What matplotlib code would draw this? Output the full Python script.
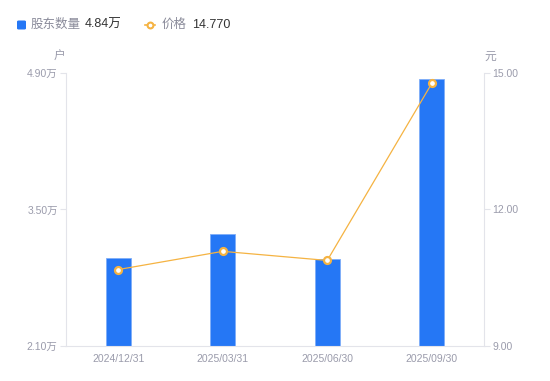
import matplotlib
matplotlib.use('Agg')
import matplotlib.pyplot as plt
import numpy as np

plt.rcParams['font.family'] = ['Liberation Sans', 'Noto Sans CJK SC', 'DejaVu Sans']

# data
dates = ['2024/12/31', '2025/03/31', '2025/06/30', '2025/09/30']
holders = [3.00, 3.25, 2.99, 4.84]      # 万户
price = [10.68, 11.08, 10.88, 14.77]    # 元
left_ticks = [2.10, 3.50, 4.90]
right_ticks = [9.00, 12.00, 15.00]

bar_color = '#2577F5'
line_color = '#F5B342'
axis_color = '#E3E4EA'
label_color = '#9A9BAB'

fig = plt.figure(figsize=(5.5, 3.81), dpi=100)
ax = fig.add_axes([0.12, 0.0919, 0.76, 0.7165])
ax2 = ax.twinx()

x = np.arange(len(dates))
ax.bar(x, holders, width=0.24, color=bar_color, edgecolor='#7FADF8', linewidth=0.6,
       bottom=0, zorder=2)
ax.set_xlim(-0.5, len(dates) - 0.5)
ax.set_ylim(left_ticks[0], left_ticks[-1])
ax.set_yticks(left_ticks)
ax.set_yticklabels([f'{v:.2f}万' for v in left_ticks])
ax.set_xticks(x)
ax.set_xticklabels(dates)

ax2.plot(x, price, color=line_color, linewidth=0.9, marker='o', markersize=5,
         markerfacecolor='white', markeredgecolor=line_color, markeredgewidth=1.6, zorder=3)
ax2.set_ylim(right_ticks[0], right_ticks[-1])
ax2.set_yticks(right_ticks)
ax2.set_yticklabels([f'{v:.2f}' for v in right_ticks])

for a in (ax, ax2):
    for s in a.spines.values():
        s.set_visible(False)
    a.tick_params(axis='y', colors=axis_color, labelcolor=label_color, labelsize=7.5,
                  length=4, width=0.8, pad=2)
    a.tick_params(axis='x', length=0, labelcolor=label_color, labelsize=7.5, pad=6)
ax.spines['left'].set_visible(True)
ax.spines['left'].set_color(axis_color)
ax.spines['bottom'].set_visible(True)
ax.spines['bottom'].set_color(axis_color)
ax2.spines['right'].set_visible(True)
ax2.spines['right'].set_color(axis_color)

# axis units
fig.text(59 / 550, 1 - 57 / 381, '户', ha='center', va='center', fontsize=8.5, color=label_color)
fig.text(490 / 550, 1 - 57 / 381, '元', ha='center', va='center', fontsize=8.5, color=label_color)

# legend header
ly = 1 - 25 / 381
fig.patches.append(matplotlib.patches.FancyBboxPatch(
    (17 / 550, 1 - 29.5 / 381), 9 / 550, 9 / 381, boxstyle='round,pad=0,rounding_size=0.003',
    transform=fig.transFigure, facecolor=bar_color, edgecolor='none'))
fig.text(31 / 550, ly, '股东数量', ha='left', va='center', fontsize=9, color='#8A8B9A')
fig.text(85 / 550, ly, f'{holders[-1]:.2f}万', ha='left', va='center', fontsize=9, color='#333333')
fig.lines.append(matplotlib.lines.Line2D([145 / 550, 155 / 550], [ly, ly], transform=fig.transFigure,
                                         color=line_color, linewidth=1.2))
fig.lines.append(matplotlib.lines.Line2D([150 / 550], [ly], transform=fig.transFigure, marker='o',
                                         markersize=4.2, markerfacecolor='white',
                                         markeredgecolor=line_color, markeredgewidth=1.5))
fig.text(162 / 550, ly, '价格', ha='left', va='center', fontsize=9, color='#8A8B9A')
fig.text(192 / 550, ly, f'{price[-1]:.3f}', ha='left', va='center', fontsize=9, color='#333333')

fig.savefig('out.png', dpi=100)
